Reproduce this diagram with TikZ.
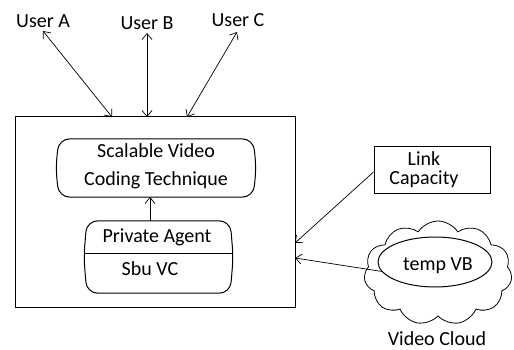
\documentclass[tikz,border=0pt]{standalone}
\usepackage{fontspec}
\setmainfont{Carlito}
\usetikzlibrary{arrows.meta,shapes.symbols,shapes.geometric,calc}
\begin{document}
\begin{tikzpicture}[x=1pt,y=-1pt,
  >={Straight Barb[length=6pt,width=10pt]},
  lbl/.style={font=\fontsize{20}{24}\selectfont, inner sep=0pt},
  arr/.style={line width=0.7pt},
  box/.style={line width=1pt},
]
\useasboundingbox (0,0) rectangle (514,350);
% users
\node[lbl] (userA) at (43,21) {User A};
\node[lbl] (userB) at (147,23) {User B};
\node[lbl] (userC) at (238,20) {User C};
% main box
\node[box, draw, minimum width=280, minimum height=190, inner sep=0pt] (main) at (155,212) {};
\coordinate (ea) at (112,117);
\coordinate (eb) at (147,117);
\coordinate (ec) at (187,117);
\coordinate (sa) at (43,31);
\coordinate (sb) at (147,33);
\coordinate (sc) at (237,32);
\draw[arr,<->] (sa) -- (ea);
\draw[arr,<->] (sb) -- (eb);
\draw[arr,<->] (sc) -- (ec);
% scalable video box
\node[minimum width=194, minimum height=58, inner sep=0pt] (svc) at (156,168) {};
\draw[box, rounded corners=11pt] (svc.north west) -- (svc.north east) -- ([xshift=3]svc.east)
  -- (svc.south east) -- (svc.south west) -- ([xshift=-3]svc.west) -- cycle;
\node[lbl, align=center, font=\fontsize{20}{28}\selectfont] (svct) at (156,166) {Scalable Video\\Coding Technique};
% private agent box
\node[minimum width=143, minimum height=72, inner sep=0pt] (pa) at (158.5,257) {};
\draw[box, rounded corners=11pt] (pa.north west) -- (pa.north east) -- ([xshift=3]pa.east)
  -- (pa.south east) -- (pa.south west) -- ([xshift=-3]pa.west) -- cycle;
\coordinate (div) at (158.5,253);
\draw[box] ([xshift=-2.5]pa.west |- div) -- ([xshift=2.5]pa.east |- div);
\node[lbl] (pat) at (157,237) {Private Agent};
\node[lbl] (sbu) at (150,269) {Sbu VC};
\coordinate (pa1) at (150,221);
\coordinate (sv1) at (150,197);
\draw[arr,->] (pa1) -- (sv1);
% link capacity
\node[box, draw, minimum width=116, minimum height=46, inner sep=0pt] (link) at (432,170) {};
\node[lbl, align=center, font=\fontsize{20}{19}\selectfont] (linkt) at (424,170) {Link\\Capacity};
\coordinate (el) at (295,243);
\draw[arr,->] ([yshift=-2]link.west) -- (el);
% cloud
\node[cloud, draw, line width=0.8pt, cloud puffs=11, cloud puff arc=115, aspect=1.45, minimum width=148, minimum height=104, inner sep=0pt] (cloud) at (438,273) {};
\node[ellipse, draw, box, minimum width=114, minimum height=50, inner sep=0pt] (vb) at (435,262) {};
\node[lbl] (vbt) at (438,266) {temp VB};
\coordinate (ev) at (295,258);
\draw[arr,->] (vb.190) -- (ev);
\node[lbl] (vc) at (437,339) {Video Cloud};
\end{tikzpicture}
\end{document}
